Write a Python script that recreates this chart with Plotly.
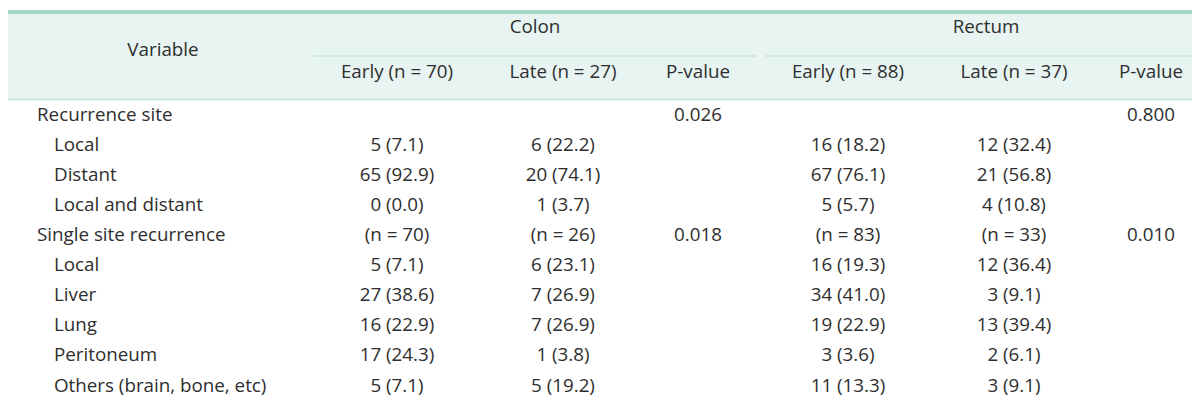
import plotly.graph_objects as go

# ---- data ----
row_labels = ["Recurrence site", "Local", "Distant", "Local and distant",
              "Single site recurrence", "Local", "Liver", "Lung", "Peritoneum",
              "Others (brain, bone, etc)"]
row_indent = [0, 1, 1, 1, 0, 1, 1, 1, 1, 1]
colon_early = ["", "5 (7.1)", "65 (92.9)", "0 (0.0)", "(n = 70)", "5 (7.1)",
               "27 (38.6)", "16 (22.9)", "17 (24.3)", "5 (7.1)"]
colon_late = ["", "6 (22.2)", "20 (74.1)", "1 (3.7)", "(n = 26)", "6 (23.1)",
              "7 (26.9)", "7 (26.9)", "1 (3.8)", "5 (19.2)"]
colon_p = ["0.026", "", "", "", "0.018", "", "", "", "", ""]
rectum_early = ["", "16 (18.2)", "67 (76.1)", "5 (5.7)", "(n = 83)", "16 (19.3)",
                "34 (41.0)", "19 (22.9)", "3 (3.6)", "11 (13.3)"]
rectum_late = ["", "12 (32.4)", "21 (56.8)", "4 (10.8)", "(n = 33)", "12 (36.4)",
               "3 (9.1)", "13 (39.4)", "2 (6.1)", "3 (9.1)"]
rectum_p = ["0.800", "", "", "", "0.010", "", "", "", "", ""]
group_headers = ["Colon", "Rectum"]
sub_headers = ["Early (n = 70)", "Late (n = 27)", "P-value",
               "Early (n = 88)", "Late (n = 37)", "P-value"]
first_header = "Variable"

# ---- layout constants ----
W, H = 1200, 411
FONT = "Open Sans"
FS = 18.8
TXT = "#2e2e2e"
DY = -5  # vertical text correction
col_x = [389, 555, 690, 840, 1006, 1143]
group_x = [527, 978]
group_span = [(305, 748), (757, 1200)]
row_y0, row_dy = 113, 30.1
label_x = [29, 46]

fig = go.Figure()

# header background & rules
fig.add_shape(type="rect", x0=0, x1=W, y0=5, y1=91, fillcolor="#e7f4f2",
              line_width=0, layer="below")
fig.add_shape(type="line", x0=0, x1=W, y0=4, y1=4,
              line=dict(color="#a7d6ca", width=4))
fig.add_shape(type="line", x0=0, x1=W, y0=91.5, y1=91.5,
              line=dict(color="#c7e4de", width=2))
for a, b in group_span:
    fig.add_shape(type="line", x0=a, x1=b, y0=48, y1=48,
                  line=dict(color="#c7e4de", width=1.5))
fig.add_shape(type="line", x0=0, x1=W, y0=406, y1=406,
              line=dict(color="#a7d6ca", width=4))

def txt(xs, ys, texts, pos="middle center"):
    fig.add_trace(go.Scatter(x=xs, y=[y + DY for y in ys], text=texts,
                             mode="text", textposition=pos, hoverinfo="skip",
                             showlegend=False,
                             textfont=dict(family=FONT, size=FS, color=TXT)))

# headers
txt([155], [48], [first_header])
txt(group_x, [25, 25], group_headers)
txt(col_x, [70] * len(sub_headers), sub_headers)

# body
ys = [row_y0 + i * row_dy for i in range(len(row_labels))]
txt([label_x[k] for k in row_indent], ys, row_labels, pos="middle right")
for cx, col in zip(col_x, [colon_early, colon_late, colon_p,
                           rectum_early, rectum_late, rectum_p]):
    txt([cx] * len(col), ys, col)

fig.update_layout(
    width=W, height=H, margin=dict(l=0, r=0, t=0, b=0),
    paper_bgcolor="white", plot_bgcolor="white",
    xaxis=dict(range=[0, W], visible=False, fixedrange=True),
    yaxis=dict(range=[H, 0], visible=False, fixedrange=True),
)
fig.write_html("out.html")
